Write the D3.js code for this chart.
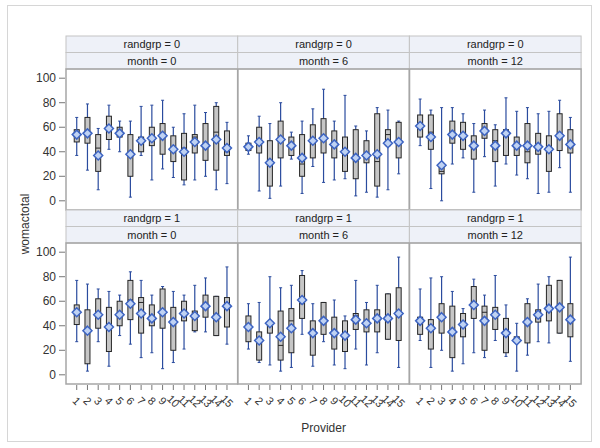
<!DOCTYPE html>
<html>
<head>
<meta charset="UTF-8">
<script src="https://d3js.org/d3.v7.min.js"></script>
<style>
    body {
        margin: 0;
        background: #fff;
        font-family: "Liberation Sans", Arial, sans-serif;
    }
</style>
</head>
<body>
<svg id="main" width="600" height="448"></svg>
<script>
    var providers = d3.range(1, 16);
    var yTicks = [0, 20, 40, 60, 80, 100];
    var randgrps = [0, 1];
    var months = [0, 6, 12];

    // one row per provider: [min, q1, median, q3, max, mean]
    var r0m0 = [
        [37, 48, 54, 58, 68, 54], [25, 47, 56, 68, 79, 55], [9, 24, 43, 54, 59, 37],
        [42, 50, 60, 69, 78, 59], [40, 52, 56, 60, 65, 55], [3, 20, 40, 54, 65, 38],
        [37, 40, 50, 52, 77, 49], [17, 45, 52, 60, 78, 51], [26, 38, 55, 63, 82, 53],
        [19, 32, 42, 53, 60, 42], [13, 17, 43, 55, 71, 40], [17, 39, 52, 54, 78, 48],
        [20, 33, 45, 63, 72, 45], [9, 25, 56, 77, 80, 50], [14, 37, 40, 57, 64, 43]
    ];
    var r0m6 = [
        [38, 41, 44, 47, 53, 44], [8, 39, 48, 60, 69, 48], [2, 12, 31, 49, 63, 31],
        [12, 35, 51, 65, 80, 50], [34, 37, 45, 52, 56, 45], [6, 20, 30, 54, 65, 35],
        [28, 35, 49, 62, 75, 49], [15, 39, 50, 67, 91, 51], [17, 35, 47, 57, 65, 46],
        [18, 24, 40, 52, 86, 40], [4, 18, 35, 58, 61, 35], [7, 31, 37, 49, 57, 37],
        [3, 12, 32, 71, 76, 38], [9, 45, 54, 58, 74, 47], [22, 35, 48, 64, 65, 48]
    ];
    var r0m12 = [
        [45, 52, 62, 70, 83, 61], [10, 42, 56, 70, 74, 52], [0, 22, 24, 27, 76, 29],
        [30, 47, 54, 65, 76, 54], [35, 42, 54, 64, 71, 53], [7, 34, 44, 53, 63, 45],
        [36, 51, 59, 63, 74, 57], [12, 32, 49, 58, 62, 45], [30, 37, 55, 58, 84, 55],
        [21, 37, 45, 52, 73, 45], [18, 31, 40, 63, 76, 45], [6, 38, 44, 55, 71, 44],
        [7, 24, 43, 53, 73, 42], [27, 41, 53, 71, 82, 53], [7, 39, 46, 58, 68, 46]
    ];
    var r1m0 = [
        [27, 41, 51, 57, 77, 51], [3, 9, 36, 53, 74, 36], [27, 38, 49, 62, 70, 49],
        [7, 19, 39, 55, 68, 39], [32, 40, 49, 60, 65, 49], [25, 45, 61, 77, 84, 58],
        [14, 34, 59, 63, 77, 50], [18, 40, 46, 57, 65, 46], [5, 38, 51, 70, 72, 51],
        [10, 20, 43, 55, 68, 43], [21, 44, 50, 60, 65, 50], [35, 36, 48, 52, 73, 48],
        [35, 47, 56, 65, 79, 56], [32, 32, 47, 64, 64, 47], [25, 39, 56, 63, 88, 56]
    ];
    var r1m6 = [
        [21, 27, 39, 48, 58, 39], [10, 12, 28, 35, 59, 28], [8, 34, 42, 43, 80, 42],
        [3, 12, 24, 52, 71, 31], [6, 18, 44, 54, 73, 38], [33, 46, 58, 81, 85, 61],
        [7, 16, 34, 44, 58, 34], [27, 33, 44, 59, 59, 44], [8, 21, 34, 47, 61, 34],
        [5, 19, 34, 44, 48, 32], [21, 37, 48, 50, 77, 45], [8, 35, 42, 53, 59, 42],
        [18, 35, 46, 53, 73, 46], [29, 29, 46, 66, 66, 46], [6, 28, 50, 71, 96, 50]
    ];
    var r1m12 = [
        [28, 33, 44, 47, 70, 44], [6, 21, 38, 45, 79, 38], [20, 34, 47, 58, 80, 47],
        [3, 14, 35, 56, 68, 35], [9, 31, 41, 50, 54, 41], [18, 46, 57, 72, 78, 57],
        [14, 20, 51, 56, 65, 44], [28, 37, 49, 55, 81, 49], [15, 18, 34, 46, 57, 34],
        [3, 29, 30, 31, 42, 28], [16, 26, 43, 58, 62, 43], [27, 43, 49, 53, 74, 49],
        [26, 44, 54, 73, 80, 54], [34, 34, 55, 77, 77, 55], [11, 31, 45, 58, 96, 45]
    ];
    var panelData = [[r0m0, r0m6, r0m12], [r1m0, r1m6, r1m12]];

    var svg = d3.select("#main");
    var plotLeft = 66, colW = 171.7, stripH = 16.5;
    var rowTop = [36, 210];
    var plotH = 141;

    // outer frame
    svg.append("rect")
        .attr("x", 7.5).attr("y", 5.5)
        .attr("width", 584).attr("height", 436)
        .attr("fill", "#fff")
        .attr("stroke", "#d6d6d6");

    randgrps.forEach(function(rg, ri) {
        var top = rowTop[ri];
        var pTop = top + 2 * stripH;
        var y = d3.scaleLinear().domain([-7.5, 107.5]).range([pTop + plotH, pTop]);

        months.forEach(function(m, ci) {
            var x0 = plotLeft + ci * colW;
            var x = d3.scalePoint().domain(providers).range([x0, x0 + colW]).padding(1);
            var g = svg.append("g");

            // header strips
            [["randgrp = " + rg, top], ["month = " + m, top + stripH]].forEach(function(s) {
                g.append("rect")
                    .attr("x", x0).attr("y", s[1])
                    .attr("width", colW).attr("height", stripH)
                    .attr("fill", "#eef1f8")
                    .attr("stroke", "#c4c4c4");
                g.append("text")
                    .attr("x", x0 + colW / 2).attr("y", s[1] + stripH / 2 + 4)
                    .attr("text-anchor", "middle")
                    .attr("font-size", 11)
                    .attr("fill", "#222")
                    .text(s[0]);
            });

            var rows = panelData[ri][ci];
            var bw = 5;
            var b = g.selectAll(".box").data(rows).enter().append("g");
            b.append("line")
                .attr("x1", (d, i) => x(providers[i])).attr("x2", (d, i) => x(providers[i]))
                .attr("y1", d => y(d[0])).attr("y2", d => y(d[4]))
                .attr("stroke", "#2a4b9e").attr("stroke-width", 1.2);
            b.append("line")
                .attr("x1", (d, i) => x(providers[i]) - 1.5).attr("x2", (d, i) => x(providers[i]) + 1.5)
                .attr("y1", d => y(d[4])).attr("y2", d => y(d[4]))
                .attr("stroke", "#2a4b9e");
            b.append("line")
                .attr("x1", (d, i) => x(providers[i]) - 1.5).attr("x2", (d, i) => x(providers[i]) + 1.5)
                .attr("y1", d => y(d[0])).attr("y2", d => y(d[0]))
                .attr("stroke", "#2a4b9e");
            b.append("rect")
                .attr("x", (d, i) => x(providers[i]) - bw / 2)
                .attr("y", d => y(d[3]))
                .attr("width", bw)
                .attr("height", d => Math.max(1, y(d[1]) - y(d[3])))
                .attr("fill", "#c6c6c6")
                .attr("stroke", "#262626");
            b.append("line")
                .attr("x1", (d, i) => x(providers[i]) - bw / 2).attr("x2", (d, i) => x(providers[i]) + bw / 2)
                .attr("y1", d => y(d[2])).attr("y2", d => y(d[2]))
                .attr("stroke", "#262626");
            b.append("path")
                .attr("d", function(d, i) {
                    var cx = x(providers[i]), cy = y(d[5]), r = 4.5;
                    return "M" + cx + "," + (cy - r) + "L" + (cx + r) + "," + cy +
                        "L" + cx + "," + (cy + r) + "L" + (cx - r) + "," + cy + "Z";
                })
                .attr("fill", "#bfd2f3")
                .attr("stroke", "#3d64c2")
                .attr("stroke-width", 1.5);

            // panel frame
            g.append("rect")
                .attr("x", x0).attr("y", pTop)
                .attr("width", colW).attr("height", plotH)
                .attr("fill", "none")
                .attr("stroke", "#a6a6a6")
                .attr("stroke-width", 1.5);

            // x axis on the bottom row only
            if (ri == 1) {
                var xb = pTop + plotH;
                var ax = svg.append("g");
                providers.forEach(function(p) {
                    ax.append("line")
                        .attr("x1", x(p)).attr("x2", x(p))
                        .attr("y1", xb + 1).attr("y2", xb + 6)
                        .attr("stroke", "#777");
                    ax.append("text")
                        .attr("transform", "translate(" + x(p) + "," + (xb + 17) + ") rotate(45)")
                        .attr("text-anchor", "middle")
                        .attr("dy", "0.35em")
                        .attr("font-size", 11)
                        .attr("fill", "#333")
                        .text(p);
                });
            }
        });

        // y axis
        var ay = svg.append("g");
        yTicks.forEach(function(t) {
            ay.append("line")
                .attr("x1", plotLeft - 7).attr("x2", plotLeft - 1)
                .attr("y1", y(t)).attr("y2", y(t))
                .attr("stroke", "#777");
            ay.append("text")
                .attr("x", plotLeft - 10).attr("y", y(t))
                .attr("dy", "0.35em")
                .attr("text-anchor", "end")
                .attr("font-size", 12)
                .attr("fill", "#333")
                .text(t);
        });
    });

    svg.append("text")
        .attr("transform", "translate(29,224) rotate(-90)")
        .attr("text-anchor", "middle")
        .attr("font-size", 12)
        .attr("fill", "#333")
        .text("womactotal");

    svg.append("text")
        .attr("x", plotLeft + 1.5 * colW).attr("y", 432)
        .attr("text-anchor", "middle")
        .attr("font-size", 12)
        .attr("fill", "#333")
        .text("Provider");
</script>
</body>
</html>
